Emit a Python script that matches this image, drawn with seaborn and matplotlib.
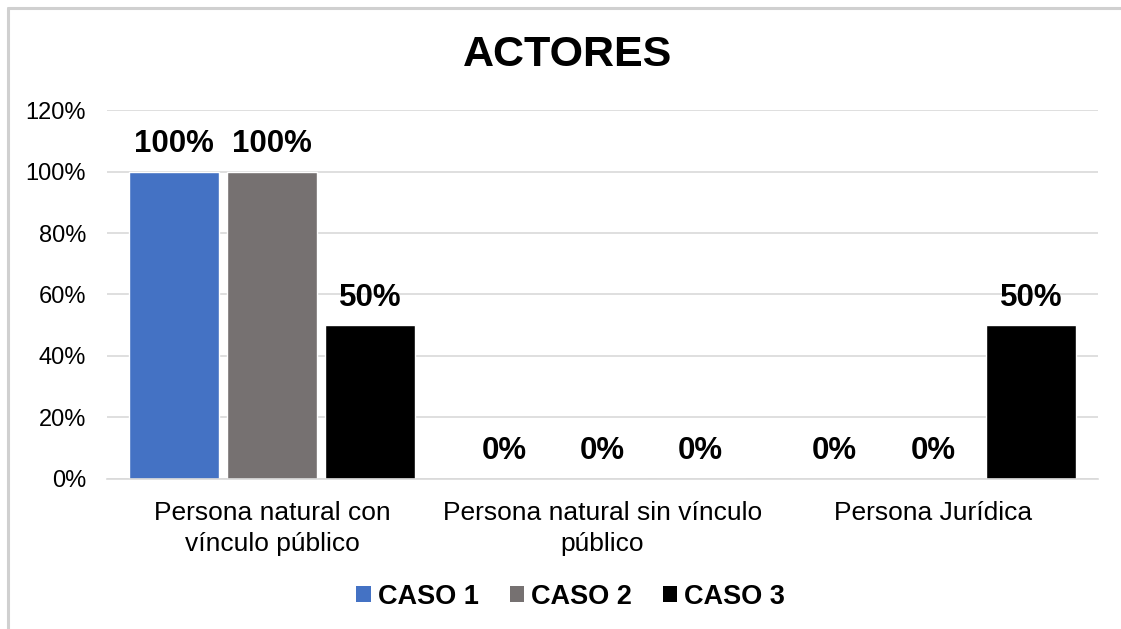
import matplotlib
matplotlib.use("Agg")
import matplotlib.pyplot as plt
import seaborn as sns
import pandas as pd
from matplotlib.lines import Line2D
from matplotlib.patches import Patch

categories = ["Persona natural con\nvínculo público", "Persona natural sin vínculo\npúblico", "Persona Jurídica"]
series = ["CASO 1", "CASO 2", "CASO 3"]
caso1 = [100, 0, 0]
caso2 = [100, 0, 0]
caso3 = [50, 0, 50]
colors = ["#4472C4", "#767171", "#000000"]
yticks = [0, 20, 40, 60, 80, 100, 120]

rows = []
for s, vals in zip(series, [caso1, caso2, caso3]):
    for c, v in zip(categories, vals):
        rows.append({"cat": c, "serie": s, "val": v})
df = pd.DataFrame(rows)

sns.set_theme(style="white")
plt.rcParams["font.family"] = ["Liberation Sans", "DejaVu Sans"]
plt.rcParams["text.color"] = "#000000"
plt.rcParams["xtick.color"] = "#000000"
plt.rcParams["ytick.color"] = "#000000"

fig = plt.figure(figsize=(11.21, 6.29), dpi=100)
ax = fig.add_axes([0.0955, 0.2385, 0.884, 0.5866])

sns.barplot(data=df, x="cat", y="val", hue="serie", palette=colors,
            width=0.891, gap=0.08, ax=ax, legend=False, saturation=1)

ax.set_ylim(0, 120)
ax.set_yticks(yticks)
ax.set_yticklabels([f"{t}%" for t in yticks], fontsize=17)
ax.yaxis.grid(True, color="#D9D9D9", linewidth=1.2)
ax.set_axisbelow(True)
for sp in ["top", "right", "left"]:
    ax.spines[sp].set_visible(False)
ax.spines["bottom"].set_color("#D9D9D9")
ax.spines["bottom"].set_linewidth(1.2)
ax.tick_params(axis="both", length=0)
ax.tick_params(axis="y", pad=15)
ax.set_xticks(range(len(categories)))
ax.set_xticklabels(categories, fontsize=19, linespacing=1.35)
ax.tick_params(axis="x", pad=16)
ax.set_xlabel("")
ax.set_ylabel("")
ax.set_xlim(-0.5, 2.5)

for cont in ax.containers:
    ax.bar_label(cont, labels=[f"{v:.0f}%" for v in cont.datavalues],
                 fontsize=22.5, fontweight="bold", padding=9, color="#000000")

fig.text(0.506, 0.912, "ACTORES", ha="center", va="center", fontsize=31, fontweight="bold", color="#000000")

handles = [Patch(facecolor=c, edgecolor="none") for c in colors]
leg = fig.legend(handles, series, loc="center", bbox_to_anchor=(0.509, 0.051), ncol=3,
                 frameon=False, prop={"weight": "bold", "size": 19.5},
                 handlelength=0.53, handleheight=0.53, handletextpad=0.25, columnspacing=1.15)

# border (top and left visible)
fig.add_artist(Line2D([8/1121, 1], [1 - 8/629, 1 - 8/629], color="#D0D0D0", linewidth=2.2, transform=fig.transFigure))
fig.add_artist(Line2D([8/1121, 8/1121], [0, 1 - 8/629], color="#D0D0D0", linewidth=2.2, transform=fig.transFigure))

fig.savefig("out.png", dpi=100, facecolor="white")
